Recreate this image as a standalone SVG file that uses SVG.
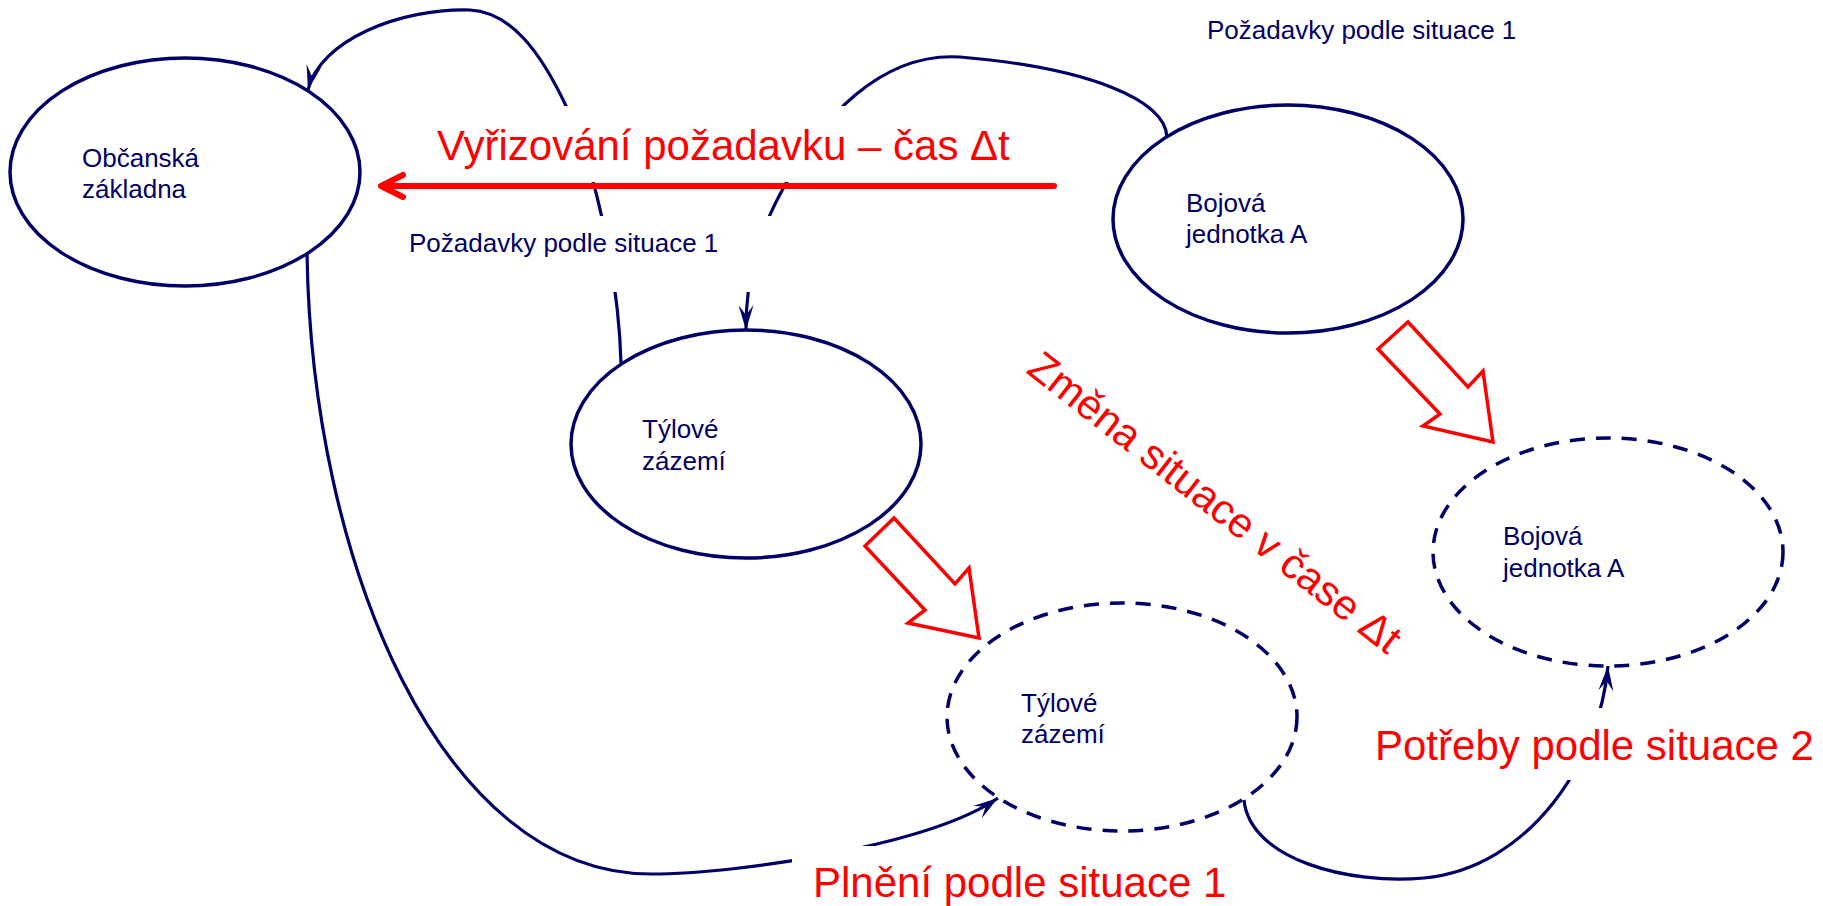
<svg xmlns="http://www.w3.org/2000/svg" width="1823" height="906" viewBox="0 0 1823 906">
  <style>
    .node { fill: #ffffff; stroke: #000066; stroke-width: 3.5; }
    .future { fill: #ffffff; stroke: #000066; stroke-width: 3.5; stroke-dasharray: 15 11; }
    .lbl { font-family: "Liberation Sans", Arial, sans-serif; font-size: 26px; fill: #000066; }
    .big { font-family: "Liberation Sans", Arial, sans-serif; font-size: 42px; fill: #ff0000; }
    .conn { fill: none; stroke: #000066; stroke-width: 3.2; marker-end: url(#ah); }
    .mask { fill: #ffffff; stroke: none; }
    .block { fill: #ffffff; stroke: #ff0000; stroke-width: 3.5; stroke-linejoin: miter; }
  </style>
  <defs>
    <marker id="ah" viewBox="0 0 25 15" refX="25" refY="7.5" markerWidth="25" markerHeight="15" markerUnits="userSpaceOnUse" orient="auto">
      <path d="M0,0 L25,7.5 L0,15 L10,7.5 z" fill="#000066"/>
    </marker>
  </defs>

  <rect width="1823" height="906" fill="#ffffff"/>

  <!-- connectors between the units -->
  <g id="connectors">
    <path class="conn" d="M 621 363 C 619 290 600 180 567 108 C 540 50 510 12 470 10 C 400 8 320 40 308 90"/>
    <path class="conn" d="M 1167 137 C 1165 100 1090 68 960 57 C 880 52 820 120 785 185 C 760 230 746 270 746 330"/>
    <path class="conn" d="M 307 252 C 311 560 440 874 651 874 C 740 874 930 845 998 798"/>
    <path class="conn" d="M 1244 800 C 1250 860 1350 885 1424 878 C 1530 868 1600 760 1608 666"/>
  </g>

  <!-- current situation -->
  <g id="obcanska-zakladna">
    <ellipse class="node" cx="185" cy="172" rx="175" ry="114"/>
    <text class="lbl" x="82" y="167">Občanská</text>
    <text class="lbl" x="82" y="198">základna</text>
  </g>
  <g id="bojova-jednotka-1">
    <ellipse class="node" cx="1288" cy="219" rx="175" ry="114"/>
    <text class="lbl" x="1186" y="212">Bojová</text>
    <text class="lbl" x="1186" y="243">jednotka A</text>
  </g>
  <g id="tylove-zazemi-1">
    <ellipse class="node" cx="746" cy="444" rx="175" ry="114"/>
    <text class="lbl" x="642" y="438">Týlové</text>
    <text class="lbl" x="642" y="470">zázemí</text>
  </g>

  <!-- situation after the change -->
  <g id="tylove-zazemi-2">
    <ellipse class="future" cx="1122" cy="717" rx="175" ry="114"/>
    <text class="lbl" x="1021" y="712">Týlové</text>
    <text class="lbl" x="1021" y="743">zázemí</text>
  </g>
  <g id="bojova-jednotka-2">
    <ellipse class="future" cx="1608" cy="552" rx="175" ry="114"/>
    <text class="lbl" x="1503" y="545">Bojová</text>
    <text class="lbl" x="1503" y="577">jednotka A</text>
  </g>

  <!-- labels with white backing over the connectors -->
  <g id="label-vyrizovani">
    <rect class="mask" x="425" y="106" width="605" height="76"/>
    <text class="big" x="437" y="160" font-size="42.5">Vyřizování požadavku – čas Δt</text>
    <path d="M 1054 186 L 384 186" fill="none" stroke="#ff0000" stroke-width="6" stroke-linecap="round"/>
    <polyline points="403,175 381,186 403,197" fill="none" stroke="#ff0000" stroke-width="6" stroke-linecap="round" stroke-linejoin="round"/>
  </g>
  <g id="label-pozadavky-1">
    <rect class="mask" x="400" y="216" width="390" height="76"/>
    <text class="lbl" x="409" y="252">Požadavky podle situace 1</text>
  </g>
  <g id="label-pozadavky-2">
    <text class="lbl" x="1207" y="39">Požadavky podle situace 1</text>
  </g>
  <g id="label-plneni">
    <rect class="mask" x="792" y="846" width="445" height="60"/>
    <text class="big" x="813" y="897">Plnění podle situace 1</text>
  </g>
  <g id="label-potreby">
    <rect class="mask" x="1365" y="708" width="458" height="72"/>
    <text class="big" x="1375" y="760">Potřeby podle situace 2</text>
  </g>
  <g id="label-zmena">
    <text class="big" transform="translate(1025 372) rotate(38)">Změna situace v čase Δt</text>
  </g>

  <!-- transitions to the new situation -->
  <g id="transition-tyl">
    <polygon class="block" points="894,518 955,584 969,568 979,638 908,623 925,610 865,546"/>
  </g>
  <g id="transition-bojova">
    <polygon class="block" points="1408,322 1468,387 1483,371 1493,442 1423,426 1440,414 1378,349"/>
  </g>
</svg>
